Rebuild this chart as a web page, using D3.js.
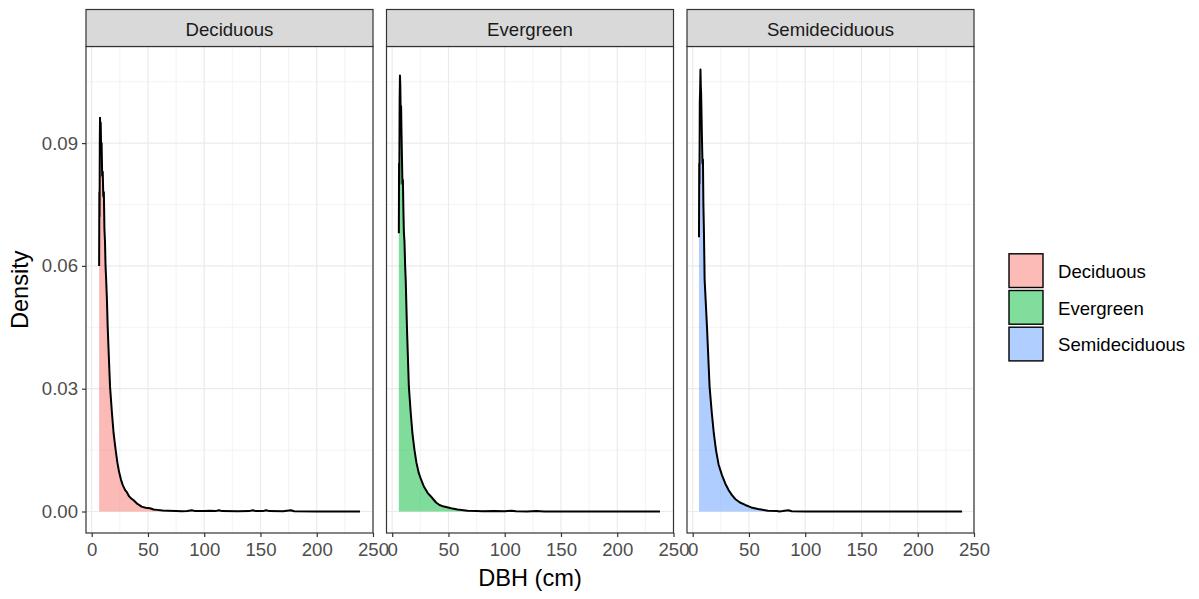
<!DOCTYPE html>
<html>
<head>
<meta charset="utf-8">
<script src="https://cdn.jsdelivr.net/npm/d3@7"></script>
<style>
  body { margin: 0; background: #fff; }
  text { font-family: "Liberation Sans", Arial, sans-serif; }
</style>
</head>
<body>
<script>
// leaf habit groups, one facet each
const groups = ['Deciduous', 'Evergreen', 'Semideciduous'];
const groupColors = ['#F8766D', '#00BA38', '#619CFF'];

const xTicks = [0, 50, 100, 150, 200, 250];
const xMinorTicks = [25, 75, 125, 175, 225];
const yTicks = [0, 0.03, 0.06, 0.09];
const yMinorTicks = [0.015, 0.045, 0.075, 0.105];

// density curves (DBH in cm, density)
const decidDbh = [6.6, 6.8, 7.0, 7.2, 7.4, 7.7, 8.0, 8.4, 8.8, 9.3, 9.8, 10.3, 10.8, 11.3, 11.8, 12.3,
  12.8, 13.5, 14.2, 15.2, 16.3, 18.0, 19.5, 21.3, 22.8, 24.3, 26.0, 27.5, 29.6, 31.5, 33, 35, 37, 40,
  44.4, 48, 51.8, 55, 58, 63, 68, 75, 80, 85, 89, 92, 100, 105, 110, 113, 116, 130, 140, 143, 146,
  152, 155, 158, 170, 177, 180, 200, 220, 238.5];
const decidDensity = [0.060, 0.078, 0.072, 0.090, 0.0962, 0.094, 0.095, 0.088, 0.090, 0.082, 0.083,
  0.077, 0.078, 0.069, 0.066, 0.060, 0.057, 0.052, 0.0452, 0.038, 0.0305, 0.024, 0.019, 0.015, 0.012,
  0.0097, 0.0078, 0.0065, 0.0053, 0.0046, 0.0038, 0.0032, 0.0028, 0.0020, 0.0012, 0.0009, 0.0008,
  0.0005, 0.0004, 0.00025, 0.0002, 0.0001, 0.00005, 0.0001, 0.0003, 0.0001, 0.0001, 0.0002, 0.0001,
  0.0003, 0.0001, 0.00005, 0.0001, 0.0003, 0.0001, 0.0001, 0.0003, 0.0001, 0.00005, 0.0003, 0.00005,
  0.00003, 0.00002, 0.00002];

const everDbh = [5.9, 6.1, 6.3, 6.6, 6.9, 7.2, 7.5, 7.9, 8.3, 8.7, 9.1, 9.5, 10.0, 10.4, 10.9, 11.5,
  12.0, 13.1, 14.8, 16.5, 18, 19.8, 21.5, 23.5, 25.8, 28, 31.6, 34, 36.5, 39, 42, 46, 52.4, 58, 67,
  75, 80, 90, 100, 106, 110, 120, 128, 135, 150, 170, 200, 238];
const everDensity = [0.068, 0.085, 0.080, 0.100, 0.1065, 0.104, 0.098, 0.099, 0.092, 0.086, 0.080,
  0.081, 0.073, 0.068, 0.066, 0.060, 0.0566, 0.045, 0.0305, 0.024, 0.019, 0.015, 0.012, 0.0095,
  0.0077, 0.0062, 0.0045, 0.0038, 0.0030, 0.0022, 0.0016, 0.0012, 0.0008, 0.0005, 0.0002, 0.0001,
  0.00005, 0.0001, 0.00005, 0.0002, 0.00005, 0.00003, 0.00015, 0.00003, 0.00002, 0.00002, 0.00001,
  0.00001];

const semiDbh = [5.6, 5.8, 6.0, 6.3, 6.6, 6.9, 7.2, 7.5, 7.9, 8.3, 8.7, 9.1, 9.5, 10, 10.6, 11.5,
  12.7, 15, 17, 18.8, 20.7, 23, 26, 29, 32, 34.9, 38, 42, 46.7, 52, 58, 67, 75, 77, 80, 85, 88, 100,
  120, 150, 200, 239.4];
const semiDensity = [0.067, 0.085, 0.080, 0.100, 0.103, 0.108, 0.104, 0.102, 0.096, 0.090, 0.085,
  0.086, 0.075, 0.068, 0.0566, 0.0517, 0.045, 0.0305, 0.024, 0.019, 0.015, 0.0115, 0.0089, 0.0068,
  0.0052, 0.0040, 0.0030, 0.0022, 0.0016, 0.0010, 0.0006, 0.0002, 0.0001, 0.00003, 0.0001, 0.0003,
  0.00005, 0.00003, 0.00002, 0.00001, 0.00001, 0.00001];

(function() {
  'use strict';

  let svgContainer = ''; // keep SVG reference around

  const panelTop = 46.5;
  const panelBottom = 533;
  const panelWidth = 287;
  const panelLefts = [86, 386.5, 687];
  const stripTop = 9.5;
  const smallFont = '18.6px';
  const titleFont = '23.6px';

  const dbhSeries = [decidDbh, everDbh, semiDbh];
  const densitySeries = [decidDensity, everDensity, semiDensity];

  svgContainer = d3.select('body')
    .append('svg')
    .attr('width', 1199)
    .attr('height', 599);

  svgContainer.append('rect')
    .attr('width', 1199)
    .attr('height', 599)
    .attr('fill', '#fff');

  // shared y scale, one x scale per facet
  let yScale = d3.scaleLinear()
    .domain([-0.00525, 0.1136])
    .range([panelBottom, panelTop]);

  groups.forEach((name, i) => drawPanel(i, yScale));

  drawLabels();
  drawLegend();

  // draw one facet: grid, density area, line, strip, axes
  function drawPanel(i, y) {
    let left = panelLefts[i];
    let x = d3.scaleLinear()
      .domain([-5.07, 250])
      .range([left, left + panelWidth]);

    let g = svgContainer.append('g');

    // minor grid
    g.selectAll('.vminor')
      .data(xMinorTicks)
      .enter()
      .append('line')
        .attr('x1', d => x(d)).attr('x2', d => x(d))
        .attr('y1', panelTop).attr('y2', panelBottom)
        .attr('stroke', '#ebebeb')
        .attr('stroke-width', 0.6);
    g.selectAll('.hminor')
      .data(yMinorTicks)
      .enter()
      .append('line')
        .attr('x1', left).attr('x2', left + panelWidth)
        .attr('y1', d => y(d)).attr('y2', d => y(d))
        .attr('stroke', '#ebebeb')
        .attr('stroke-width', 0.6);

    // major grid
    g.selectAll('.vmajor')
      .data(xTicks)
      .enter()
      .append('line')
        .attr('x1', d => x(d)).attr('x2', d => x(d))
        .attr('y1', panelTop).attr('y2', panelBottom)
        .attr('stroke', '#ebebeb')
        .attr('stroke-width', 1.2);
    g.selectAll('.hmajor')
      .data(yTicks)
      .enter()
      .append('line')
        .attr('x1', left).attr('x2', left + panelWidth)
        .attr('y1', d => y(d)).attr('y2', d => y(d))
        .attr('stroke', '#ebebeb')
        .attr('stroke-width', 1.2);

    let points = dbhSeries[i].map((v, k) => [v, densitySeries[i][k]]);

    // filled density
    let area = d3.area()
      .x(d => x(d[0]))
      .y0(y(0))
      .y1(d => y(d[1]));
    g.append('path')
      .datum(points)
      .attr('d', area)
      .attr('fill', groupColors[i])
      .attr('fill-opacity', 0.5);

    // density outline (upper only)
    let line = d3.line()
      .x(d => x(d[0]))
      .y(d => y(d[1]));
    g.append('path')
      .datum(points)
      .attr('d', line)
      .attr('fill', 'none')
      .attr('stroke', '#000')
      .attr('stroke-width', 2)
      .attr('stroke-linejoin', 'round');

    // panel border
    g.append('rect')
      .attr('x', left)
      .attr('y', panelTop)
      .attr('width', panelWidth)
      .attr('height', panelBottom - panelTop)
      .attr('fill', 'none')
      .attr('stroke', '#333')
      .attr('stroke-width', 1.2);

    // strip
    g.append('rect')
      .attr('x', left)
      .attr('y', stripTop)
      .attr('width', panelWidth)
      .attr('height', panelTop - stripTop)
      .attr('fill', '#d9d9d9')
      .attr('stroke', '#333')
      .attr('stroke-width', 1.2);
    g.append('text')
      .attr('x', left + panelWidth / 2)
      .attr('y', (stripTop + panelTop) / 2 + 1)
      .attr('text-anchor', 'middle')
      .attr('dominant-baseline', 'central')
      .style('font-size', smallFont)
      .style('fill', '#1a1a1a')
      .text(groups[i]);

    // x axis
    let xAxis = d3.axisBottom(x)
      .tickValues(xTicks)
      .tickSize(4)
      .tickPadding(6)
      .tickFormat(d3.format('d'));
    let xg = g.append('g')
      .attr('transform', 'translate(0,' + panelBottom + ')')
      .call(xAxis);
    styleAxis(xg);

    // y axis only on first facet
    if (i === 0) {
      let yAxis = d3.axisLeft(y)
        .tickValues(yTicks)
        .tickSize(4)
        .tickPadding(4)
        .tickFormat(d3.format('.2f'));
      let yg = g.append('g')
        .attr('transform', 'translate(' + left + ',0)')
        .call(yAxis);
      styleAxis(yg);
    }
  }

  function styleAxis(sel) {
    sel.select('.domain').remove();
    sel.selectAll('.tick line')
      .attr('stroke', '#333')
      .attr('stroke-width', 1.2);
    sel.selectAll('.tick text')
      .style('font-size', smallFont)
      .style('font-family', '"Liberation Sans", Arial, sans-serif')
      .attr('fill', '#4d4d4d');
  }

  // axis titles
  function drawLabels() {
    svgContainer.append('text')
      .attr('x', (panelLefts[0] + panelLefts[2] + panelWidth) / 2)
      .attr('y', 586)
      .attr('text-anchor', 'middle')
      .style('font-size', titleFont)
      .style('fill', '#000')
      .text('DBH (cm)');

    svgContainer.append('text')
      .attr('transform', 'translate(28,' + (panelTop + panelBottom) / 2 + ')rotate(-90)')
      .attr('text-anchor', 'middle')
      .style('font-size', titleFont)
      .style('fill', '#000')
      .text('Density');
  }

  // legend on the right
  function drawLegend() {
    let keyTop = 253;
    let keyStep = 36.7;
    let lg = svgContainer.append('g');

    lg.selectAll('.key')
      .data(groups)
      .enter()
      .append('rect')
        .attr('x', 1009)
        .attr('y', (d, i) => keyTop + i * keyStep + 0.8)
        .attr('width', 34)
        .attr('height', keyStep - 3)
        .attr('fill', (d, i) => d3.interpolateRgb('#fff', groupColors[i])(0.5))
        .attr('stroke', '#000')
        .attr('stroke-width', 1.4);

    lg.selectAll('.label')
      .data(groups)
      .enter()
      .append('text')
        .attr('x', 1058)
        .attr('y', (d, i) => keyTop + i * keyStep + keyStep / 2)
        .attr('dominant-baseline', 'central')
        .style('font-size', smallFont)
        .style('fill', '#000')
        .text(d => d);
  }

})();
</script>
</body>
</html>
